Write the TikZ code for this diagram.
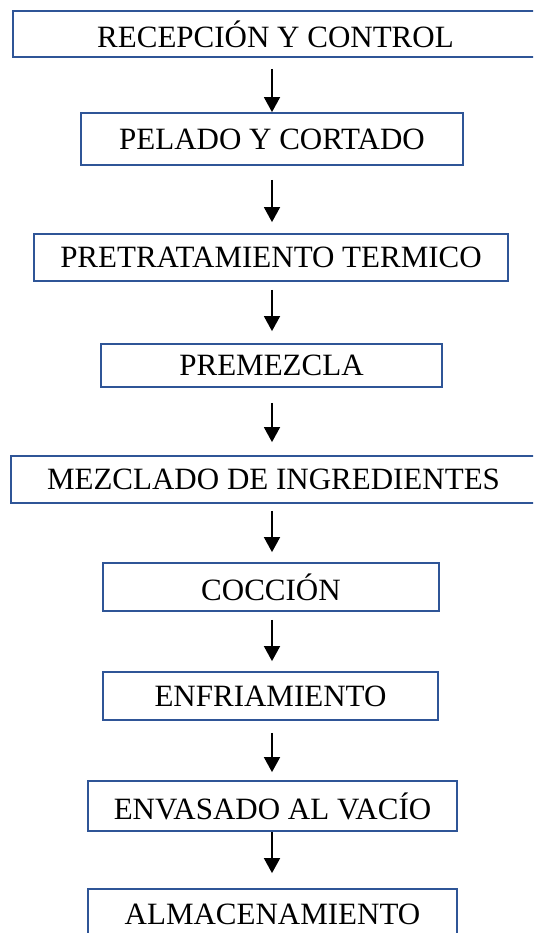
\documentclass[tikz,border=0pt]{standalone}
\usepackage{fontspec}
\setmainfont{Liberation Serif}
\usetikzlibrary{arrows.meta}
\definecolor{borde}{RGB}{47,85,151}

\begin{document}
\begin{tikzpicture}[x=1pt,y=-1pt,
	paso/.style={rectangle, draw=borde, line width=1.8pt, fill=white, inner sep=0pt, font=\fontsize{31}{36}\selectfont},
	flecha/.style={-{Triangle[width=16pt,length=15pt]}, line width=1.7pt}]
			\clip (0,0) rectangle (533,933);
			\useasboundingbox (0,0) rectangle (533,933);
			\coordinate (eje) at (272,0);
			
			\node[paso, minimum width=525pt, minimum height=46pt] (recepcion) at (275.5,34) {RECEPCIÓN Y CONTROL};
			\node[paso, minimum width=382pt, minimum height=52pt] (pelado) at (272,139) {PELADO Y CORTADO};
			\node[paso, minimum width=474pt, minimum height=47pt] (pretrat) at (271,257.5) {PRETRATAMIENTO TERMICO};
			\node[paso, minimum width=341pt, minimum height=43pt] (premezcla) at (271.5,365.5) {PREMEZCLA};
			\node[paso, minimum width=525pt, minimum height=47pt] (mezclado) at (273.5,479.5) {MEZCLADO DE INGREDIENTES};
			\node[paso, minimum width=336pt, minimum height=48pt] (coccion) at (271,587) {COCCIÓN};
			\node[paso, minimum width=335pt, minimum height=48pt] (enfriam) at (270.5,696) {ENFRIAMIENTO};
			\node[paso, minimum width=369pt, minimum height=50pt] (envasado) at (272.5,806) {ENVASADO AL VACÍO};
			\node[paso, minimum width=369pt, minimum height=50pt] (almacen) at (272.5,914) {ALMACENAMIENTO};
			
			\draw[flecha, shorten <=11pt] (recepcion.south -| eje) -- (pelado.north -| eje);
			\draw[flecha, shorten <=14pt, shorten >=11pt] (pelado.south -| eje) -- (pretrat.north -| eje);
			\draw[flecha, shorten <=8pt, shorten >=12pt] (pretrat.south -| eje) -- (premezcla.north -| eje);
			\draw[flecha, shorten <=15pt, shorten >=13pt] (premezcla.south -| eje) -- (mezclado.north -| eje);
			\draw[flecha, shorten <=7pt, shorten >=10pt] (mezclado.south -| eje) -- (coccion.north -| eje);
			\draw[flecha, shorten <=8pt, shorten >=10pt] (coccion.south -| eje) -- (enfriam.north -| eje);
			\draw[flecha, shorten <=12pt, shorten >=8pt] (enfriam.south -| eje) -- (envasado.north -| eje);
			\draw[flecha, shorten >=15pt] (envasado.south -| eje) -- (almacen.north -| eje);
\end{tikzpicture}
\end{document}
